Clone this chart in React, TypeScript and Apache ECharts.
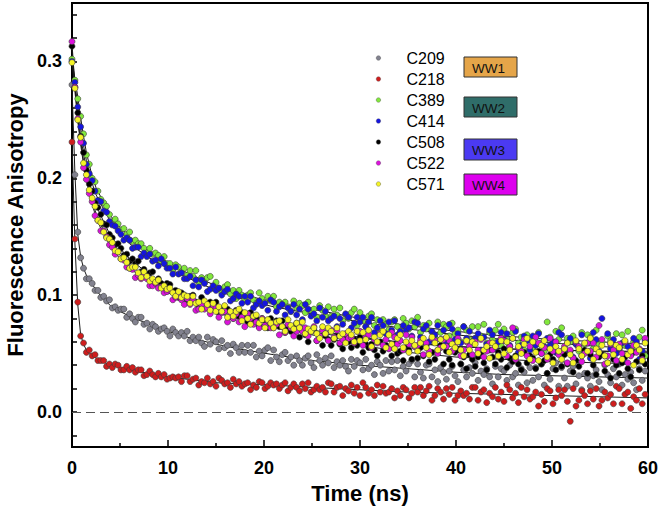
import React, { useEffect, useRef } from "react";
import * as echarts from "echarts";

// ---------- DATA ----------
const TIME_NS = [
  0, 0.3, 0.6, 0.9, 1.2, 1.5, 1.8, 2.1, 2.4, 2.7,
  3, 3.3, 3.6, 3.9, 4.2, 4.5, 4.8, 5.1, 5.4, 5.7,
  6, 6.3, 6.6, 6.9, 7.2, 7.5, 7.8, 8.1, 8.4, 8.7,
  9, 9.3, 9.6, 9.9, 10.2, 10.5, 10.8, 11.1, 11.4, 11.7,
  12, 12.3, 12.6, 12.9, 13.2, 13.5, 13.8, 14.1, 14.4, 14.7,
  15, 15.3, 15.6, 15.9, 16.2, 16.5, 16.8, 17.1, 17.4, 17.7,
  18, 18.3, 18.6, 18.9, 19.2, 19.5, 19.8, 20.1, 20.4, 20.7,
  21, 21.3, 21.6, 21.9, 22.2, 22.5, 22.8, 23.1, 23.4, 23.7,
  24, 24.3, 24.6, 24.9, 25.2, 25.5, 25.8, 26.1, 26.4, 26.7,
  27, 27.3, 27.6, 27.9, 28.2, 28.5, 28.8, 29.1, 29.4, 29.7,
  30, 30.3, 30.6, 30.9, 31.2, 31.5, 31.8, 32.1, 32.4, 32.7,
  33, 33.3, 33.6, 33.9, 34.2, 34.5, 34.8, 35.1, 35.4, 35.7,
  36, 36.3, 36.6, 36.9, 37.2, 37.5, 37.8, 38.1, 38.4, 38.7,
  39, 39.3, 39.6, 39.9, 40.2, 40.5, 40.8, 41.1, 41.4, 41.7,
  42, 42.3, 42.6, 42.9, 43.2, 43.5, 43.8, 44.1, 44.4, 44.7,
  45, 45.3, 45.6, 45.9, 46.2, 46.5, 46.8, 47.1, 47.4, 47.7,
  48, 48.3, 48.6, 48.9, 49.2, 49.5, 49.8, 50.1, 50.4, 50.7,
  51, 51.3, 51.6, 51.9, 52.2, 52.5, 52.8, 53.1, 53.4, 53.7,
  54, 54.3, 54.6, 54.9, 55.2, 55.5, 55.8, 56.1, 56.4, 56.7,
  57, 57.3, 57.6, 57.9, 58.2, 58.5, 58.8, 59.1, 59.4, 59.7,
];

const C209 = [
  0.280, 0.203, 0.154, 0.132, 0.123, 0.114, 0.114, 0.110, 0.104, 0.104,
  0.098, 0.099, 0.095, 0.096, 0.089, 0.090, 0.087, 0.088, 0.088, 0.081,
  0.084, 0.080, 0.077, 0.081, 0.081, 0.075, 0.076, 0.071, 0.075, 0.073,
  0.069, 0.071, 0.072, 0.069, 0.065, 0.071, 0.068, 0.065, 0.068, 0.065,
  0.069, 0.061, 0.064, 0.061, 0.064, 0.059, 0.056, 0.064, 0.058, 0.062,
  0.060, 0.054, 0.061, 0.055, 0.057, 0.050, 0.058, 0.055, 0.051, 0.057,
  0.051, 0.057, 0.051, 0.057, 0.047, 0.052, 0.048, 0.053, 0.055, 0.044,
  0.053, 0.047, 0.043, 0.049, 0.051, 0.044, 0.047, 0.040, 0.048, 0.044,
  0.040, 0.046, 0.048, 0.042, 0.038, 0.049, 0.044, 0.040, 0.046, 0.042,
  0.048, 0.038, 0.043, 0.040, 0.044, 0.039, 0.035, 0.045, 0.039, 0.044,
  0.042, 0.036, 0.045, 0.037, 0.040, 0.032, 0.043, 0.040, 0.033, 0.044,
  0.035, 0.043, 0.036, 0.044, 0.031, 0.039, 0.035, 0.041, 0.044, 0.030,
  0.041, 0.034, 0.029, 0.040, 0.041, 0.030, 0.036, 0.026, 0.038, 0.034,
  0.028, 0.035, 0.039, 0.031, 0.026, 0.041, 0.036, 0.030, 0.038, 0.033,
  0.042, 0.027, 0.035, 0.032, 0.037, 0.030, 0.024, 0.039, 0.030, 0.037,
  0.035, 0.027, 0.040, 0.030, 0.033, 0.023, 0.037, 0.034, 0.025, 0.038,
  0.027, 0.038, 0.030, 0.041, 0.023, 0.033, 0.028, 0.037, 0.042, 0.022,
  0.038, 0.029, 0.022, 0.035, 0.039, 0.024, 0.031, 0.019, 0.033, 0.029,
  0.022, 0.031, 0.036, 0.026, 0.019, 0.040, 0.032, 0.025, 0.037, 0.030,
  0.041, 0.023, 0.032, 0.028, 0.034, 0.025, 0.019, 0.037, 0.027, 0.035,
];

const C218 = [
  0.231, 0.148, 0.094, 0.065, 0.059, 0.051, 0.053, 0.048, 0.049, 0.044,
  0.044, 0.044, 0.039, 0.041, 0.038, 0.041, 0.040, 0.036, 0.036, 0.039,
  0.036, 0.038, 0.034, 0.036, 0.036, 0.031, 0.032, 0.035, 0.032, 0.030,
  0.033, 0.030, 0.032, 0.028, 0.029, 0.030, 0.029, 0.030, 0.026, 0.031,
  0.031, 0.026, 0.028, 0.029, 0.023, 0.026, 0.025, 0.029, 0.024, 0.026,
  0.022, 0.029, 0.027, 0.024, 0.025, 0.021, 0.028, 0.024, 0.026, 0.022,
  0.024, 0.025, 0.019, 0.023, 0.021, 0.026, 0.025, 0.020, 0.022, 0.025,
  0.023, 0.024, 0.020, 0.023, 0.025, 0.018, 0.021, 0.024, 0.021, 0.018,
  0.024, 0.020, 0.025, 0.017, 0.019, 0.022, 0.019, 0.021, 0.017, 0.025,
  0.024, 0.017, 0.021, 0.022, 0.014, 0.020, 0.018, 0.023, 0.016, 0.021,
  0.014, 0.025, 0.021, 0.016, 0.019, 0.014, 0.023, 0.017, 0.022, 0.016,
  0.017, 0.020, 0.012, 0.018, 0.014, 0.021, 0.019, 0.012, 0.016, 0.021,
  0.017, 0.021, 0.014, 0.018, 0.022, 0.010, 0.014, 0.020, 0.017, 0.011,
  0.020, 0.015, 0.021, 0.010, 0.014, 0.018, 0.014, 0.016, 0.011, 0.021,
  0.021, 0.010, 0.017, 0.019, 0.008, 0.016, 0.013, 0.021, 0.011, 0.017,
  0.009, 0.023, 0.019, 0.012, 0.016, 0.008, 0.021, 0.013, 0.019, 0.011,
  0.013, 0.017, 0.005, 0.015, 0.009, 0.020, 0.018, 0.007, 0.012, 0.019,
  0.014, 0.019, 0.009, -0.008, 0.020, 0.005, 0.010, 0.018, 0.014, 0.007,
  0.018, 0.011, 0.020, 0.005, 0.010, 0.017, 0.012, 0.015, 0.007, 0.022,
  0.020, 0.007, 0.015, 0.017, 0.003, 0.013, 0.010, 0.020, 0.007, 0.015,
];

const C389 = [
  0.302, 0.284, 0.268, 0.253, 0.238, 0.220, 0.212, 0.200, 0.197, 0.189,
  0.182, 0.179, 0.176, 0.169, 0.163, 0.165, 0.161, 0.156, 0.157, 0.152,
  0.154, 0.146, 0.147, 0.144, 0.144, 0.140, 0.136, 0.140, 0.135, 0.136,
  0.134, 0.129, 0.133, 0.127, 0.127, 0.122, 0.126, 0.124, 0.120, 0.123,
  0.117, 0.121, 0.116, 0.121, 0.111, 0.115, 0.111, 0.115, 0.116, 0.106,
  0.111, 0.106, 0.102, 0.107, 0.109, 0.101, 0.104, 0.097, 0.104, 0.100,
  0.096, 0.100, 0.102, 0.096, 0.093, 0.102, 0.097, 0.094, 0.099, 0.095,
  0.099, 0.090, 0.094, 0.092, 0.094, 0.090, 0.086, 0.095, 0.089, 0.093,
  0.091, 0.085, 0.094, 0.087, 0.088, 0.081, 0.091, 0.087, 0.082, 0.090,
  0.082, 0.088, 0.083, 0.089, 0.078, 0.083, 0.080, 0.085, 0.088, 0.074,
  0.085, 0.078, 0.073, 0.082, 0.084, 0.074, 0.079, 0.069, 0.079, 0.075,
  0.070, 0.077, 0.079, 0.073, 0.068, 0.080, 0.076, 0.071, 0.078, 0.073,
  0.081, 0.068, 0.074, 0.071, 0.076, 0.068, 0.064, 0.077, 0.068, 0.075,
  0.073, 0.065, 0.076, 0.067, 0.070, 0.060, 0.073, 0.070, 0.062, 0.073,
  0.063, 0.073, 0.065, 0.075, 0.059, 0.068, 0.062, 0.070, 0.075, 0.057,
  0.071, 0.062, 0.056, 0.068, 0.071, 0.059, 0.064, 0.053, 0.066, 0.062,
  0.055, 0.064, 0.068, 0.059, 0.052, 0.077, 0.064, 0.058, 0.069, 0.062,
  0.072, 0.054, 0.063, 0.060, 0.065, 0.058, 0.052, 0.068, 0.058, 0.066,
  0.064, 0.054, 0.070, 0.058, 0.060, 0.048, 0.065, 0.061, 0.052, 0.067,
  0.054, 0.066, 0.057, 0.069, 0.050, 0.060, 0.054, 0.064, 0.070, 0.048,
];

const C414 = [
  0.300, 0.282, 0.261, 0.244, 0.230, 0.212, 0.204, 0.198, 0.189, 0.181,
  0.180, 0.172, 0.171, 0.163, 0.160, 0.159, 0.155, 0.152, 0.147, 0.149,
  0.147, 0.140, 0.141, 0.141, 0.133, 0.136, 0.133, 0.135, 0.129, 0.130,
  0.125, 0.131, 0.127, 0.123, 0.123, 0.118, 0.124, 0.118, 0.119, 0.114,
  0.114, 0.116, 0.108, 0.113, 0.107, 0.113, 0.110, 0.103, 0.105, 0.108,
  0.104, 0.106, 0.100, 0.103, 0.105, 0.095, 0.097, 0.101, 0.099, 0.093,
  0.099, 0.094, 0.099, 0.089, 0.092, 0.095, 0.091, 0.093, 0.087, 0.096,
  0.094, 0.086, 0.090, 0.092, 0.083, 0.089, 0.086, 0.092, 0.083, 0.088,
  0.079, 0.092, 0.088, 0.082, 0.084, 0.078, 0.089, 0.081, 0.086, 0.078,
  0.080, 0.082, 0.073, 0.080, 0.075, 0.084, 0.081, 0.072, 0.076, 0.081,
  0.077, 0.081, 0.073, 0.077, 0.081, 0.068, 0.072, 0.078, 0.074, 0.067,
  0.077, 0.070, 0.078, 0.066, 0.069, 0.074, 0.070, 0.072, 0.065, 0.077,
  0.076, 0.064, 0.071, 0.074, 0.060, 0.069, 0.066, 0.074, 0.062, 0.070,
  0.059, 0.075, 0.071, 0.062, 0.067, 0.059, 0.073, 0.063, 0.069, 0.060,
  0.063, 0.067, 0.053, 0.064, 0.058, 0.070, 0.066, 0.054, 0.060, 0.068,
  0.062, 0.067, 0.057, 0.063, 0.069, 0.051, 0.057, 0.065, 0.061, 0.053,
  0.065, 0.057, 0.067, 0.050, 0.056, 0.063, 0.057, 0.060, 0.051, 0.068,
  0.066, 0.051, 0.059, 0.063, 0.047, 0.058, 0.055, 0.066, 0.051, 0.059,
  0.046, 0.068, 0.062, 0.052, 0.080, 0.048, 0.067, 0.054, 0.062, 0.050,
  0.054, 0.059, 0.043, 0.056, 0.049, 0.063, 0.060, 0.045, 0.052, 0.061,
];

const C508 = [
  0.313, 0.278, 0.256, 0.236, 0.222, 0.207, 0.195, 0.189, 0.179, 0.175,
  0.169, 0.161, 0.160, 0.152, 0.149, 0.143, 0.144, 0.140, 0.134, 0.135,
  0.129, 0.131, 0.127, 0.129, 0.120, 0.122, 0.118, 0.119, 0.120, 0.111,
  0.114, 0.110, 0.106, 0.110, 0.109, 0.103, 0.104, 0.098, 0.102, 0.100,
  0.095, 0.099, 0.100, 0.094, 0.090, 0.098, 0.094, 0.090, 0.094, 0.090,
  0.094, 0.085, 0.088, 0.086, 0.088, 0.083, 0.080, 0.087, 0.082, 0.085,
  0.083, 0.077, 0.085, 0.078, 0.080, 0.073, 0.080, 0.078, 0.072, 0.080,
  0.073, 0.078, 0.073, 0.078, 0.068, 0.073, 0.069, 0.073, 0.076, 0.064,
  0.071, 0.066, 0.060, 0.069, 0.070, 0.061, 0.065, 0.057, 0.065, 0.062,
  0.057, 0.062, 0.065, 0.058, 0.054, 0.065, 0.060, 0.055, 0.062, 0.057,
  0.064, 0.051, 0.058, 0.055, 0.058, 0.053, 0.048, 0.060, 0.052, 0.057,
  0.055, 0.048, 0.058, 0.050, 0.052, 0.044, 0.055, 0.053, 0.045, 0.056,
  0.046, 0.055, 0.048, 0.057, 0.043, 0.051, 0.045, 0.053, 0.057, 0.041,
  0.052, 0.045, 0.040, 0.051, 0.053, 0.041, 0.047, 0.037, 0.049, 0.045,
  0.039, 0.047, 0.050, 0.042, 0.036, 0.053, 0.047, 0.041, 0.051, 0.045,
  0.054, 0.038, 0.046, 0.043, 0.048, 0.041, 0.036, 0.051, 0.042, 0.048,
  0.046, 0.037, 0.052, 0.041, 0.044, 0.033, 0.049, 0.045, 0.036, 0.051,
  0.039, 0.049, 0.041, 0.052, 0.034, 0.044, 0.039, 0.048, 0.053, 0.033,
  0.049, 0.040, 0.032, 0.047, 0.049, 0.035, 0.042, 0.029, 0.045, 0.040,
  0.033, 0.042, 0.047, 0.037, 0.030, 0.051, 0.043, 0.036, 0.048, 0.041,
];

const C522 = [
  0.317, 0.278, 0.251, 0.231, 0.209, 0.199, 0.187, 0.180, 0.168, 0.164,
  0.155, 0.155, 0.150, 0.143, 0.141, 0.135, 0.137, 0.131, 0.130, 0.124,
  0.123, 0.122, 0.115, 0.117, 0.114, 0.117, 0.114, 0.108, 0.108, 0.110,
  0.106, 0.107, 0.102, 0.103, 0.104, 0.096, 0.098, 0.099, 0.096, 0.092,
  0.097, 0.092, 0.096, 0.087, 0.088, 0.092, 0.088, 0.089, 0.084, 0.091,
  0.089, 0.081, 0.085, 0.086, 0.077, 0.083, 0.080, 0.084, 0.077, 0.081,
  0.073, 0.084, 0.080, 0.075, 0.077, 0.072, 0.080, 0.074, 0.078, 0.072,
  0.072, 0.075, 0.066, 0.073, 0.068, 0.075, 0.072, 0.065, 0.069, 0.073,
  0.069, 0.072, 0.065, 0.069, 0.073, 0.061, 0.065, 0.070, 0.067, 0.061,
  0.070, 0.064, 0.070, 0.059, 0.062, 0.067, 0.063, 0.064, 0.059, 0.069,
  0.069, 0.057, 0.064, 0.066, 0.055, 0.062, 0.059, 0.067, 0.057, 0.062,
  0.054, 0.068, 0.064, 0.058, 0.061, 0.053, 0.066, 0.058, 0.064, 0.056,
  0.057, 0.061, 0.049, 0.059, 0.052, 0.063, 0.061, 0.050, 0.055, 0.062,
  0.056, 0.061, 0.052, 0.058, 0.063, 0.048, 0.053, 0.060, 0.056, 0.049,
  0.060, 0.053, 0.062, 0.047, 0.052, 0.059, 0.053, 0.056, 0.048, 0.063,
  0.061, 0.048, 0.056, 0.072, 0.045, 0.055, 0.052, 0.062, 0.048, 0.056,
  0.044, 0.064, 0.059, 0.050, 0.055, 0.045, 0.063, 0.052, 0.060, 0.049,
  0.052, 0.056, 0.042, 0.053, 0.046, 0.060, 0.056, 0.043, 0.050, 0.059,
  0.052, 0.059, 0.047, 0.074, 0.062, 0.041, 0.048, 0.058, 0.053, 0.044,
  0.058, 0.050, 0.060, 0.042, 0.048, 0.057, 0.051, 0.054, 0.045, 0.063,
];

const C571 = [
  0.299, 0.277, 0.250, 0.235, 0.213, 0.203, 0.190, 0.183, 0.176, 0.164,
  0.162, 0.154, 0.149, 0.148, 0.145, 0.138, 0.137, 0.131, 0.132, 0.128,
  0.123, 0.124, 0.124, 0.119, 0.115, 0.120, 0.116, 0.112, 0.114, 0.111,
  0.113, 0.106, 0.108, 0.105, 0.106, 0.102, 0.099, 0.103, 0.098, 0.100,
  0.099, 0.093, 0.099, 0.093, 0.094, 0.088, 0.095, 0.092, 0.087, 0.093,
  0.086, 0.090, 0.086, 0.091, 0.081, 0.086, 0.082, 0.086, 0.088, 0.078,
  0.085, 0.080, 0.075, 0.082, 0.083, 0.076, 0.079, 0.072, 0.079, 0.076,
  0.072, 0.077, 0.078, 0.073, 0.069, 0.079, 0.074, 0.071, 0.076, 0.072,
  0.077, 0.067, 0.071, 0.069, 0.072, 0.067, 0.063, 0.073, 0.067, 0.072,
  0.069, 0.063, 0.072, 0.065, 0.067, 0.059, 0.069, 0.066, 0.060, 0.069,
  0.061, 0.068, 0.062, 0.070, 0.056, 0.064, 0.060, 0.066, 0.069, 0.055,
  0.066, 0.058, 0.054, 0.063, 0.066, 0.055, 0.060, 0.051, 0.061, 0.057,
  0.052, 0.059, 0.063, 0.055, 0.049, 0.064, 0.059, 0.053, 0.062, 0.056,
  0.064, 0.051, 0.058, 0.055, 0.060, 0.053, 0.048, 0.061, 0.053, 0.060,
  0.058, 0.050, 0.063, 0.053, 0.056, 0.046, 0.059, 0.056, 0.048, 0.061,
  0.050, 0.060, 0.053, 0.063, 0.047, 0.056, 0.050, 0.058, 0.063, 0.045,
  0.060, 0.051, 0.044, 0.057, 0.061, 0.047, 0.054, 0.042, 0.056, 0.052,
  0.045, 0.054, 0.059, 0.049, 0.042, 0.061, 0.054, 0.048, 0.059, 0.052,
  0.063, 0.045, 0.054, 0.051, 0.057, 0.048, 0.042, 0.059, 0.049, 0.057,
  0.055, 0.045, 0.061, 0.049, 0.052, 0.040, 0.057, 0.053, 0.044, 0.059,
];

// fitted decay curves
const FIT_TIME_NS = [0, 0.3, 0.6, 0.9, 1.2, 1.5, 2, 2.5, 3, 4, 5, 6, 8, 10, 12, 15, 18, 21, 25, 30, 35, 40, 45, 50, 55, 60];
const FIT_C209 = [0.279, 0.205, 0.152, 0.133, 0.123, 0.117, 0.110, 0.105, 0.099, 0.091, 0.086, 0.082, 0.075, 0.069, 0.064, 0.058, 0.053, 0.049, 0.044, 0.040, 0.037, 0.034, 0.032, 0.031, 0.030, 0.029];
const FIT_C218 = [0.233, 0.145, 0.092, 0.066, 0.058, 0.053, 0.049, 0.046, 0.044, 0.040, 0.038, 0.036, 0.033, 0.030, 0.028, 0.025, 0.024, 0.023, 0.021, 0.019, 0.017, 0.016, 0.015, 0.014, 0.013, 0.012];
const FIT_C389 = [0.300, 0.285, 0.270, 0.252, 0.236, 0.222, 0.205, 0.192, 0.184, 0.168, 0.158, 0.150, 0.138, 0.128, 0.119, 0.108, 0.100, 0.094, 0.088, 0.080, 0.074, 0.069, 0.065, 0.062, 0.060, 0.058];
const FIT_C414 = [0.300, 0.280, 0.262, 0.243, 0.228, 0.215, 0.198, 0.186, 0.178, 0.163, 0.152, 0.144, 0.132, 0.123, 0.115, 0.104, 0.096, 0.090, 0.084, 0.077, 0.071, 0.066, 0.062, 0.059, 0.056, 0.054];
const FIT_C508 = [0.310, 0.280, 0.255, 0.236, 0.221, 0.208, 0.190, 0.177, 0.168, 0.151, 0.140, 0.131, 0.118, 0.107, 0.099, 0.089, 0.081, 0.075, 0.066, 0.057, 0.051, 0.047, 0.045, 0.043, 0.042, 0.041];
const FIT_C522 = [0.315, 0.280, 0.250, 0.229, 0.212, 0.199, 0.180, 0.167, 0.157, 0.142, 0.131, 0.123, 0.111, 0.102, 0.094, 0.085, 0.078, 0.073, 0.068, 0.063, 0.059, 0.056, 0.054, 0.053, 0.052, 0.052];
const FIT_C571 = [0.300, 0.275, 0.250, 0.232, 0.215, 0.202, 0.183, 0.170, 0.160, 0.145, 0.134, 0.126, 0.114, 0.105, 0.097, 0.088, 0.081, 0.076, 0.070, 0.064, 0.059, 0.056, 0.054, 0.053, 0.052, 0.051];

const SERIES_NAMES = ["C209", "C218", "C389", "C414", "C508", "C522", "C571"];
const SERIES_VALUES = [C209, C218, C389, C414, C508, C522, C571];
const FIT_VALUES = [FIT_C209, FIT_C218, FIT_C389, FIT_C414, FIT_C508, FIT_C522, FIT_C571];
const WW_LABELS = ["WW1", "WW2", "WW3", "WW4"];

// ---------- STYLE ----------
const FONT = "'Liberation Sans', Arial, Helvetica, sans-serif";
const COLORS = ["#82828f", "#cf1d1d", "#82e83c", "#1414e0", "#000000", "#dc12dc", "#f4f426"];
const WW_COLORS = ["#e5a549", "#2f6d69", "#4b3af2", "#dd00ee"];
const WW_BOX = [
  { x: 464, y: 57, w: 53, h: 20 },
  { x: 464, y: 97, w: 53, h: 20 },
  { x: 464, y: 139, w: 53, h: 21 },
  { x: 464, y: 174, w: 53, h: 21 },
];

export default function App() {
  const ref = useRef<HTMLDivElement>(null);

  useEffect(() => {
    if (!ref.current) return;
    const chart = echarts.init(ref.current, null, { renderer: "svg" });

    const scatterSeries = SERIES_NAMES.map((name, i) => ({
      name,
      type: "scatter",
      data: TIME_NS.map((t, j) => [t, SERIES_VALUES[i][j]]),
      symbol: "circle",
      symbolSize: 6,
      itemStyle: { color: COLORS[i], borderColor: "#3a3a3a", borderWidth: 0.6, opacity: 1 },
      emphasis: { disabled: true },
      silent: true,
      z: 3,
    }));

    const fitSeries = SERIES_NAMES.map((name, i) => ({
      name: "fit " + name,
      type: "line",
      data: FIT_TIME_NS.map((t, j) => [t, FIT_VALUES[i][j]]),
      symbol: "none",
      lineStyle: { color: "#1a1a1a", width: 1 },
      emphasis: { disabled: true },
      silent: true,
      z: 2,
      ...(i === 0
        ? {
            markLine: {
              silent: true,
              symbol: ["none", "none"],
              label: { show: false },
              lineStyle: { type: [9, 5], color: "#555", width: 1 },
              data: [{ yAxis: 0 }],
            },
          }
        : {}),
    }));

    const graphic: any[] = [];
    WW_LABELS.forEach((label, i) => {
      const b = WW_BOX[i];
      graphic.push({
        type: "rect",
        shape: { x: b.x, y: b.y, width: b.w, height: b.h },
        style: { fill: WW_COLORS[i], stroke: "#333", lineWidth: 1 },
        z: 10,
      });
      graphic.push({
        type: "text",
        x: b.x + b.w / 2 - 2,
        y: b.y + b.h / 2 + 1,
        style: {
          text: label,
          fontSize: 13.5,
          fontFamily: FONT,
          fill: "#111",
          align: "center",
          verticalAlign: "middle",
          textAlign: "center",
          textVerticalAlign: "middle",
        },
        z: 11,
      });
    });

    const option: any = {
      animation: false,
      backgroundColor: "#ffffff",
      grid: {
        left: 72,
        right: 12,
        top: 3,
        bottom: 62,
        show: true,
        borderColor: "#000",
        borderWidth: 2,
        backgroundColor: "transparent",
        containLabel: false,
        outerBoundsMode: "none",
      },
      legend: {
        data: SERIES_NAMES,
        orient: "vertical",
        left: 376,
        top: 50,
        itemWidth: 46,
        itemHeight: 4.5,
        itemGap: 5,
        padding: 0,
        icon: "circle",
        selectedMode: false,
        itemStyle: { borderWidth: 0.4, borderColor: "#555" },
        textStyle: { fontFamily: FONT, fontSize: 16, color: "#000" },
      },
      xAxis: {
        type: "value",
        min: 0,
        max: 60,
        interval: 10,
        name: "Time (ns)",
        nameLocation: "middle",
        nameGap: 35,
        nameTextStyle: { fontFamily: FONT, fontSize: 22, fontWeight: "bold", color: "#000" },
        axisLine: { show: true, onZero: false, lineStyle: { color: "#000", width: 2 } },
        axisTick: { show: true, inside: true, length: 7, lineStyle: { color: "#000", width: 1.5 } },
        minorTick: { show: true, splitNumber: 2, length: 4, lineStyle: { color: "#000", width: 1.5 } },
        axisLabel: { fontFamily: FONT, fontSize: 18, fontWeight: "bold", color: "#000", margin: 12 },
        splitLine: { show: false },
        minorSplitLine: { show: false },
      },
      yAxis: {
        type: "value",
        min: -0.03,
        max: 0.35,
        splitNumber: 19,
        minInterval: 0.02,
        maxInterval: 0.02,
        name: "Fluorescence Anisotropy",
        nameLocation: "middle",
        nameGap: 44,
        nameTextStyle: { fontFamily: FONT, fontSize: 22, fontWeight: "bold", color: "#000" },
        axisLine: { show: true, onZero: false, lineStyle: { color: "#000", width: 2 } },
        axisTick: { show: true, inside: true, length: 5, lineStyle: { color: "#000", width: 1.5 } },
        axisLabel: {
          fontFamily: FONT,
          fontSize: 18,
          fontWeight: "bold",
          color: "#000",
          margin: 10,
          formatter: (v: number) => {
            const t = v * 10;
            return Math.abs(t - Math.round(t)) < 1e-6 ? Math.abs(v).toFixed(1) : "";
          },
        },
        splitLine: { show: false },
      },
      graphic,
      series: [...fitSeries, ...scatterSeries],
    };

    chart.setOption(option);
    return () => chart.dispose();
  }, []);

  return (
    <div
      ref={ref}
      style={{ position: "fixed", left: 0, top: 0, width: 660, height: 509, background: "#fff" }}
    />
  );
}
